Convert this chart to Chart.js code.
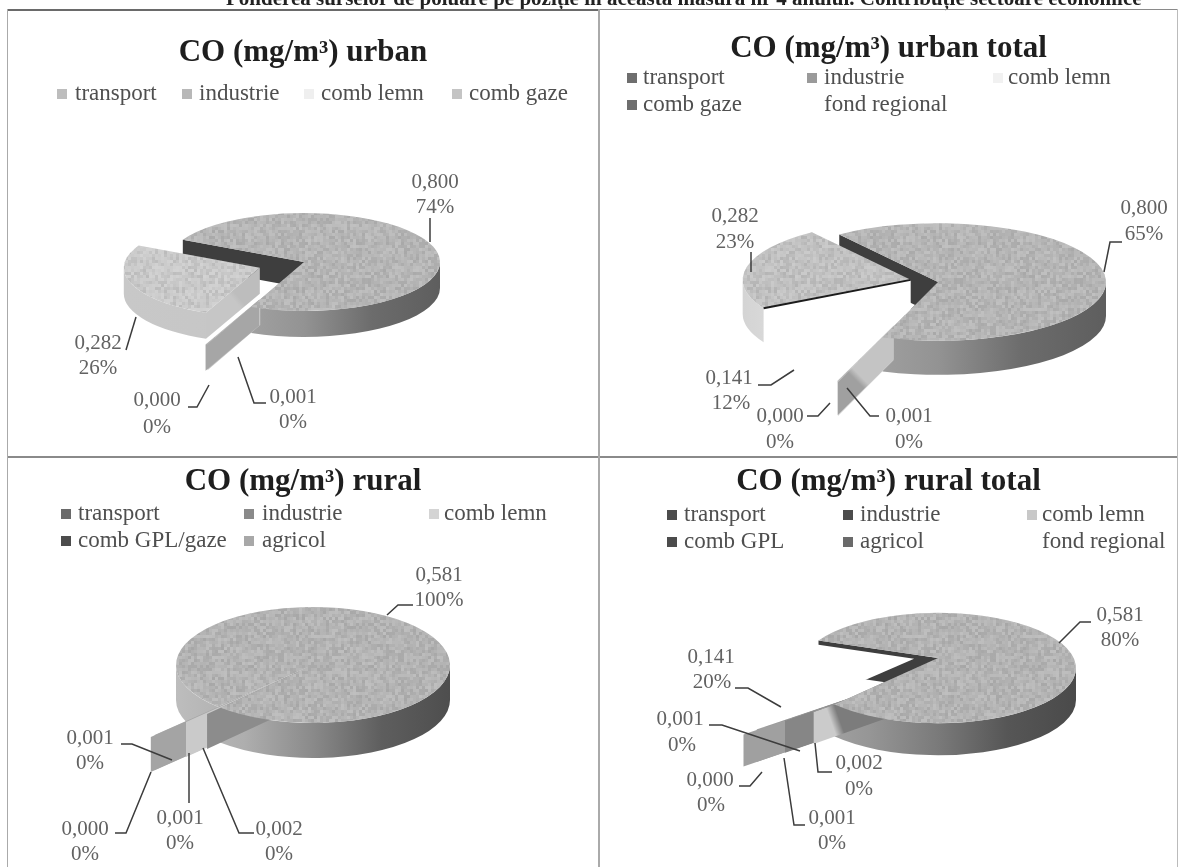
<!DOCTYPE html>
<html><head><meta charset="utf-8">
<script src="https://cdn.jsdelivr.net/npm/chart.js@4"></script>
<style>
html,body{margin:0;padding:0;background:#fff;width:1189px;height:867px;overflow:hidden}
#head{position:absolute;left:226px;top:-14px;font:bold 21px "Liberation Serif";color:#222;white-space:nowrap;filter:blur(.4px)}
.p{position:absolute;box-sizing:border-box;filter:blur(.45px)}
.f{position:absolute;background:#8a8a8a}
</style></head><body>
<div id="head">Ponderea surselor de poluare pe poziție în această măsură nr 4 anului. Contribuție sectoare economice</div>
<div class="f" style="left:7px;top:9px;width:592px;height:2px;background:#6a6a6a"></div>
<div class="f" style="left:599px;top:9px;width:579px;height:1px"></div>
<div class="f" style="left:7px;top:456px;width:1171px;height:2px"></div>
<div class="f" style="left:7px;top:9px;width:1px;height:858px;background:#aaa"></div>
<div class="f" style="left:598px;top:9px;width:2px;height:858px;background:#aaa"></div>
<div class="f" style="left:1177px;top:9px;width:1px;height:858px;background:#bbb"></div>
<canvas id="c1" class="p" style="left:8px;top:11px"></canvas>
<canvas id="c2" class="p" style="left:600px;top:11px"></canvas>
<canvas id="c3" class="p" style="left:8px;top:458px"></canvas>
<canvas id="c4" class="p" style="left:600px;top:458px"></canvas>
<script>
// ---- data -------------------------------------------------------------
const urbanCategories = ['transport','industrie','comb lemn','comb gaze'];
const urbanValues = [0.800, 0.001, 0.0004, 0.282];
const urbanLegend = ['transport','industrie','comb lemn','comb gaze'];

const urbanTotalCategories = ['transport','industrie','comb lemn','fond regional','comb gaze'];
const urbanTotalValues = [0.800, 0.001, 0.0004, 0.141, 0.282];
const urbanTotalLegend = ['transport','industrie','comb lemn','comb gaze','fond regional'];

const ruralCategories = ['transport','industrie','comb lemn','comb GPL/gaze','agricol'];
const ruralValues = [0.58051, 0.00151, 0.00051, 0.0001, 0.00051];
const ruralLegend = ['transport','industrie','comb lemn','comb GPL/gaze','agricol'];

const ruralTotalCategories = ['transport','industrie','comb lemn','comb GPL','agricol','fond regional'];
const ruralTotalValues = [0.58051, 0.00151, 0.00051, 0.0001, 0.00051, 0.1414];
const ruralTotalLegend = ['transport','industrie','comb lemn','comb GPL','agricol','fond regional'];

// ---- helpers ----------------------------------------------------------
const SERIF = '"Liberation Serif"';
function hash(x,y){const s=Math.sin(x*127.1+y*311.7)*43758.5453;return s-Math.floor(s);}
function makeGrain(ctx){
  const c=document.createElement('canvas');c.width=c.height=120;const g=c.getContext('2d');
  for(let y=0;y<120;y+=3)for(let x=0;x<120;x+=3){
    const v=hash(x,y); g.fillStyle=v<.5?`rgba(70,70,70,${(.5-v)*.24})`:`rgba(255,255,255,${(v-.5)*.3})`;
    g.fillRect(x,y,3,3);
  }
  return ctx.createPattern(c,'repeat');
}
const pie3d = {
  id:'pie3d',
  afterLayout(chart,args,o){
    const R=o.radius;
    chart.chartArea={left:o.cx-R,right:o.cx+R,top:o.cy-R,bottom:o.cy+R,width:2*R,height:2*R};
  },
  beforeDatasetsDraw(chart,args,o){
    const ctx=chart.ctx, arcs=chart.getDatasetMeta(0).data, k=o.k, D=o.depth;
    const grain=makeGrain(ctx);
    const geo=i=>{
      const a=arcs[i], p=a.getProps(['x','y','startAngle','endAngle','outerRadius']);
      const m=(p.startAngle+p.endAngle)/2, d=a.options.offset||0;
      const lifted=o.liftSlices.includes(i);
      return {cx:p.x+Math.cos(m)*d, cy:p.y+Math.sin(m)*d*k, R:p.outerRadius, s:p.startAngle, e:p.endAngle, lift:lifted?o.lift:0};
    };
    const face=(g,ang,col)=>{
      const px=g.cx+Math.cos(ang)*g.R, py=g.cy+Math.sin(ang)*g.R*k, ty=g.cy-g.lift;
      const gr=ctx.createLinearGradient(g.cx,ty,px,py);
      const st=col[2]||.5;
      gr.addColorStop(0,col[0]);gr.addColorStop(st,col[0]);gr.addColorStop(Math.min(1,st+.08),col[1]);gr.addColorStop(1,col[1]);
      ctx.fillStyle=gr;ctx.beginPath();ctx.moveTo(g.cx,ty);ctx.lineTo(px,py);ctx.lineTo(px,py+D);ctx.lineTo(g.cx,ty+D);ctx.closePath();ctx.fill();
    };
    const wall=i=>{
      const g=geo(i), st=o.styles[i];
      if(st.endFace)face(g,g.e,st.endFace);
      if(st.startFace)face(g,g.s,st.startFace);
      if(!st.wall)return;
      const gr=ctx.createLinearGradient(g.cx-g.R,0,g.cx+g.R,0);
      st.wall.forEach((c,j)=>gr.addColorStop(j/(st.wall.length-1),c));
      for(let n=-1;n<=2;n++){
        const a1=Math.max(g.s,2*Math.PI*n), a2=Math.min(g.e,2*Math.PI*n+Math.PI);
        if(a2<=a1)continue;
        ctx.fillStyle=gr;ctx.beginPath();
        ctx.ellipse(g.cx,g.cy,g.R,g.R*k,0,a1,a2);
        ctx.ellipse(g.cx,g.cy+D,g.R,g.R*k,0,a2,a1,true);
        ctx.closePath();ctx.fill();
      }
    };
    const top=i=>{
      const g=geo(i), st=o.styles[i], a=arcs[i];
      ctx.beginPath();ctx.moveTo(g.cx,g.cy-g.lift);ctx.ellipse(g.cx,g.cy,g.R,g.R*k,0,g.s,g.e);ctx.closePath();
      ctx.fillStyle=a.options.backgroundColor;ctx.fill();
      if(a.options.backgroundColor!=='#ffffff'){ctx.fillStyle=grain;ctx.fill();}
      if(st.edge){
        ctx.strokeStyle=st.edge;ctx.lineWidth=2;ctx.beginPath();ctx.moveTo(g.cx,g.cy);
        ctx.lineTo(g.cx+Math.cos(g.s)*g.R,g.cy+Math.sin(g.s)*g.R*k);ctx.stroke();
      }
    };
    o.paint.forEach(step=>{(step[0]==='w'?wall:top)(+step.slice(1));});
    return false;
  },
  afterDraw(chart,args,o){
    const ctx=chart.ctx, vals=chart.data.datasets[0].data, total=vals.reduce((a,b)=>a+b,0);
    ctx.save();
    // legend
    ctx.font=`23px ${SERIF}`;ctx.textAlign='left';ctx.textBaseline='middle';
    o.legend.forEach((t,i)=>{
      const [sx,tx,y]=o.legendPos[i];
      if(o.swatches[i]){ctx.fillStyle=o.swatches[i];ctx.fillRect(sx,y-5,10,10);}
      ctx.fillStyle='#4f4f4f';ctx.fillText(t,tx,y);
    });
    // leader lines
    ctx.strokeStyle='#3c3c3c';ctx.lineWidth=1.5;
    o.leaders.forEach(l=>{ctx.beginPath();l.forEach((p,j)=>j?ctx.lineTo(p[0],p[1]):ctx.moveTo(p[0],p[1]));ctx.stroke();});
    // value labels
    ctx.font=`21px ${SERIF}`;ctx.textAlign='center';ctx.fillStyle='#626262';
    vals.forEach((v,i)=>{
      const [x,y,x2,y2]=o.labelPos[i];
      ctx.fillText(v.toFixed(3).replace('.',','),x,y);
      ctx.fillText(Math.round(v/total*100)+'%',x2,y2);
    });
    ctx.restore();
  }
};
Chart.register(pie3d);
function make(id,ox,oy,cats,vals,title,titleTop,cfg){
  const shift=(p)=>p.map(q=>[q[0]-ox,q[1]-oy]);
  return new Chart(document.getElementById(id),{
    type:'pie',
    data:{labels:cats,datasets:[{data:vals,backgroundColor:cfg.colors,offset:cfg.offsets,borderWidth:0}]},
    options:{
      responsive:false,animation:false,radius:cfg.radius,rotation:cfg.rotation,
      layout:{padding:0},
      plugins:{
        legend:{display:false},tooltip:{enabled:false},
        title:{display:true,text:title,color:'#1e1e1e',font:{family:SERIF,size:31,weight:'bold',lineHeight:1.2},padding:{top:titleTop,bottom:0}},
        pie3d:{
          radius:cfg.radius,cx:cfg.cx-ox,cy:cfg.cy-oy,k:cfg.k,depth:cfg.depth,lift:cfg.lift||0,liftSlices:cfg.liftSlices||[],
          styles:cfg.styles,paint:cfg.paint,legend:cfg.legend,swatches:cfg.swatches,
          legendPos:cfg.legendPos.map(p=>[p[0]-ox,p[1]-ox,p[2]-oy]),
          leaders:cfg.leaders.map(shift),
          labelPos:cfg.labelPos.map(p=>[p[0]-ox,p[1]-oy,p[2]-ox,p[3]-oy])
        }
      }
    }
  });
}
function size(id,w,h){const c=document.getElementById(id);c.width=w;c.height=h;c.style.width=w+'px';c.style.height=h+'px';}
size('c1',590,445);size('c2',577,445);size('c3',590,409);size('c4',577,409);

const WALL=['#b4b4b4','#a4a4a4','#939393','#6c6c6c','#5e5e5e'];
const DARK=['#3e3e3e','#3e3e3e',1];

make('c1',8,11,urbanCategories,urbanValues,'CO (mg/m³) urban',23,{
  cx:304,cy:262,radius:136,k:.36,depth:26,rotation:297,
  colors:['#b6b6b6','#c4c4c4','#b2b2b2','#cbcbcb'],
  offsets:[0,112,114,47],
  styles:[
    {wall:WALL,startFace:DARK,endFace:['#3e3e3e','#bdbdbd',.3]},
    {startFace:['#c6c6c6','#c6c6c6']},
    {startFace:['#a6a6a6','#a6a6a6',.6]},
    {wall:['#c8c8c8','#c4c4c4'],startFace:['#bdbdbd','#c6c6c6']}
  ],
  paint:['w0','w3','t3','w1','w2','t1','t2','t0'],
  legend:urbanLegend,swatches:['#bdbdbd','#b8b8b8','#efefef','#c4c4c4'],
  legendPos:[[57,75,94],[182,199,94],[304,321,94],[452,469,94]],
  leaders:[[[430,218],[430,242]],[[266,403],[254,403],[238,357]],[[188,407],[197,407],[209,385]],[[126,350],[136,317]]],
  labelPos:[[435,182,435,207],[293,397,293,422],[157,400,157,427],[98,343,98,368]]
});
make('c2',600,11,urbanTotalCategories,urbanTotalValues,'CO (mg/m³) urban total',19,{
  cx:938,cy:282,radius:168,k:.35,depth:34,rotation:324,
  colors:['#b6b6b6','#cfcfcf','#bababa','#ffffff','#c2c2c2'],
  offsets:[0,135,132,0,28],
  styles:[
    {wall:WALL,startFace:DARK,endFace:['#3e3e3e','#9a9a9a',.55]},
    {startFace:['#d0d0d0','#d0d0d0']},
    {startFace:['#c4c4c4','#a0a0a0',.75]},
    {},
    {wall:['#d4d4d4','#f4f4f4','#ffffff'],startFace:['#ffffff','#ffffff'],edge:'#1c1c1c'}
  ],
  paint:['w0','w4','t4','w1','w2','t1','t2','t0'],
  legend:urbanTotalLegend,swatches:['#6e6e6e','#9a9a9a','#f1f1f1','#6e6e6e',null],
  legendPos:[[627,643,78],[807,824,78],[993,1008,78],[627,643,105],[807,824,105]],
  leaders:[[[1122,242],[1110,242],[1104,272]],[[879,416],[870,416],[847,388]],[[807,416],[818,416],[830,403]],[[758,385],[771,385],[794,370]],[[751,252],[751,272]]],
  labelPos:[[1144,208,1144,234],[909,416,909,442],[780,416,780,442],[729,378,731,403],[735,216,735,242]]
});
make('c3',8,458,ruralCategories,ruralValues,'CO (mg/m³) rural',5,{
  cx:313,cy:665,radius:137,k:.423,depth:35,rotation:224,
  colors:['#b4b4b4','#b4b4b4','#b4b4b4','#b4b4b4','#b4b4b4'],
  offsets:[0,20,48,98,92],
  styles:[
    {wall:['#bdbdbd','#aeaeae','#8a8a8a','#5e5e5e','#4e4e4e'],startFace:['#b4b4b4','#b4b4b4'],endFace:['#b4b4b4','#8a8a8a',.7]},
    {startFace:['#8c8c8c','#8c8c8c']},
    {startFace:['#cacaca','#cacaca']},
    {startFace:['#a4a4a4','#a4a4a4']},
    {startFace:['#aeaeae','#aeaeae']}
  ],
  paint:['w0','w4','w3','w2','w1','t0'],
  legend:ruralLegend,swatches:['#6a6a6a','#8a8a8a','#d4d4d4','#4c4c4c','#a8a8a8'],
  legendPos:[[61,78,514],[244,262,514],[429,444,514],[61,78,541],[244,262,541]],
  leaders:[[[413,605],[398,605],[387,615]],[[254,833],[239,833],[203,748]],[[189,803],[189,753]],[[115,833],[126,833],[151,772]],[[121,744],[132,744],[172,760]]],
  labelPos:[[439,575,439,600],[279,829,279,854],[180,818,180,843],[85,829,85,854],[90,738,90,763]]
});
make('c4',600,458,ruralTotalCategories,ruralTotalValues,'CO (mg/m³) rural total',5,{
  cx:938,cy:668,radius:138,k:.40,depth:32,lift:10,liftSlices:[0,5],rotation:300,
  colors:['#b4b4b4','#9a9a9a','#8a8a8a','#9a9a9a','#8a8a8a','#ffffff'],
  offsets:[0,28,64,118,100,24],
  styles:[
    {wall:['#a8a8a8','#969696','#7a7a7a','#565656','#4a4a4a'],startFace:DARK,endFace:['#505050','#8c8c8c',.5]},
    {startFace:['#7c7c7c','#cbcbcb',.8]},
    {startFace:['#868686','#868686']},
    {startFace:['#a0a0a0','#a0a0a0']},
    {startFace:['#8c8c8c','#8c8c8c']},
    {}
  ],
  paint:['w0','t5','w4','w3','w2','w1','t4','t3','t2','t1','t0'],
  legend:ruralTotalLegend,swatches:['#4c4c4c','#4c4c4c','#c8c8c8','#4c4c4c','#6a6a6a',null],
  legendPos:[[667,684,515],[843,860,515],[1027,1042,515],[667,684,542],[843,860,542],[1027,1042,542]],
  leaders:[[[1091,622],[1080,622],[1059,643]],[[832,772],[818,772],[815,743]],[[805,825],[794,825],[784,758]],[[739,786],[750,786],[762,772]],[[709,725],[722,725],[800,751]],[[735,688],[748,688],[781,707]]],
  labelPos:[[1120,615,1120,640],[859,763,859,789],[832,818,832,843],[710,780,711,805],[680,719,682,745],[711,657,712,682]]
});
</script>
</body></html>
